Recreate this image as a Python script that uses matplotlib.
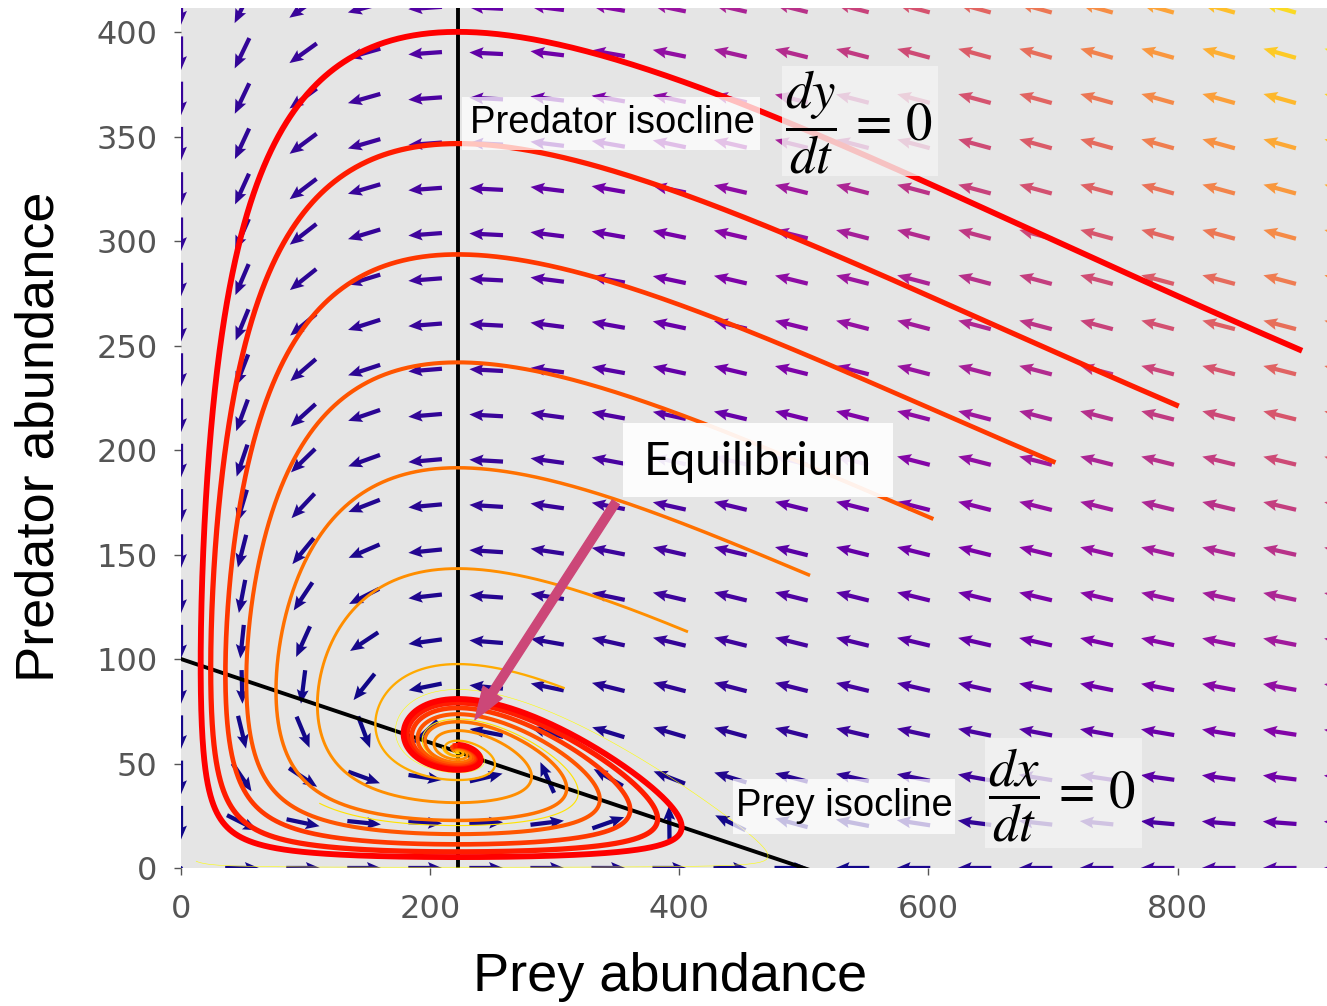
import numpy as np
import matplotlib
matplotlib.use("Agg")
import matplotlib.pyplot as plt
from matplotlib.patches import Rectangle

# ---------------- data / model parameters ----------------
r_prey = 1.0        # prey growth rate
K_prey = 500.0      # prey carrying capacity
a_attack = 0.01     # attack rate
b_conv = 0.0045     # conversion rate
m_death = 1.0       # predator mortality

# trajectory starting points (prey, predator), smallest to largest
start_prey = [12, 111, 210, 308, 407, 505, 604, 702, 801, 900]
start_pred = [3.3, 31, 58, 86, 113, 140, 167, 194, 221, 247.5]

x_ticks = [0, 200, 400, 600, 800]
y_ticks = [0, 50, 100, 150, 200, 250, 300, 350, 400]

x_lim = (0, 920)
y_lim = (0, 411.5)
grid_xmax = 931
grid_ymax = 411.5
n_grid = 20


def deriv(x, y):
    dx = x * (r_prey * (1 - x / K_prey) - a_attack * y)
    dy = y * (b_conv * x - m_death)
    return dx, dy


def integrate(x0, y0, T=21.0, n=8400):
    h = T / n
    X = np.array(x0, float)
    Y = np.array(y0, float)
    xs = [X.copy()]
    ys = [Y.copy()]
    for _ in range(n):
        k1x, k1y = deriv(X, Y)
        k2x, k2y = deriv(X + h / 2 * k1x, Y + h / 2 * k1y)
        k3x, k3y = deriv(X + h / 2 * k2x, Y + h / 2 * k2y)
        k4x, k4y = deriv(X + h * k3x, Y + h * k3y)
        X = X + h / 6 * (k1x + 2 * k2x + 2 * k3x + k4x)
        Y = Y + h / 6 * (k1y + 2 * k2y + 2 * k3y + k4y)
        xs.append(X.copy())
        ys.append(Y.copy())
    return np.array(xs), np.array(ys)


W, H = 1327, 1006
fig = plt.figure(figsize=(W / 100, H / 100), dpi=100)
ax = fig.add_axes([181 / W, 1 - 868 / H, 1146 / W, 860 / H])
ax.set_facecolor("#e5e5e5")
for s in ax.spines.values():
    s.set_visible(False)

# vector field
xg = np.linspace(0, grid_xmax, n_grid)
yg = np.linspace(0, grid_ymax, n_grid)
XG, YG = np.meshgrid(xg, yg)
DX, DY = deriv(XG, YG)
M = np.hypot(DX, DY)
Mn = M.copy()
Mn[Mn == 0] = 1
ax.quiver(XG, YG, DX / Mn, DY / Mn, M, cmap="plasma", pivot="mid",
          scale=34, scale_units="width", width=0.0037,
          headwidth=2.8, headlength=3.3, headaxislength=2.9, zorder=2)

# isoclines
xi = np.array([0, x_lim[1]])
ax.plot(xi, r_prey / a_attack * (1 - xi / K_prey), color="black", lw=2.8, zorder=3)
ax.axvline(m_death / b_conv, color="black", lw=2.8, zorder=3)

# trajectories
TX, TY = integrate(start_prey, start_pred)
n_tr = len(start_prey)
cols = plt.cm.autumn_r(np.linspace(0.0, 1.0, n_tr))
lws = np.linspace(0.4, 4.2, n_tr)
for i in range(n_tr):
    ax.plot(TX[:, i], TY[:, i], color=cols[i], lw=lws[i], zorder=4 + i * 0.01,
            solid_capstyle="butt")

ax.set_xlim(*x_lim)
ax.set_ylim(*y_lim)
ax.set_xticks(x_ticks)
ax.set_yticks(y_ticks)
ax.tick_params(colors="#555555", labelsize=23, length=5, width=1)
ax.tick_params(axis="y", pad=12)
ax.tick_params(axis="x", pad=14)

# equilibrium arrow
ax.annotate("", xy=(236, 71), xytext=(349, 175),
            arrowprops=dict(arrowstyle="simple,head_length=1.3,head_width=0.9,tail_width=0.34",
                            color="#cc4778", shrinkA=0, shrinkB=0, mutation_scale=18),
            zorder=6, annotation_clip=False)


def box(px0, py0, px1, py1, color, alpha):
    fig.add_artist(Rectangle((px0 / W, 1 - py1 / H), (px1 - px0) / W, (py1 - py0) / H,
                             transform=fig.transFigure, facecolor=color, alpha=alpha,
                             edgecolor="none", zorder=5))


def ftext(px, py, s, **kw):
    fig.text(px / W, 1 - py / H, s, ha="center", va="center", zorder=6, **kw)


plt.rcParams["mathtext.fontset"] = "stix"

box(462, 97, 760, 150, "white", 0.75)
ftext(612, 123, "Predator isocline", fontsize=27.5, family="Liberation Sans")
box(782, 66, 938, 176, "#f4f4f4", 0.8)
ftext(859, 122, r"$\dfrac{dy}{dt}\,=\,0$", fontsize=38)

box(623, 423, 893, 497, "white", 0.92)
ftext(758, 462, "Equilibrium", fontsize=33, family="Lato")

box(733, 779, 955, 834, "white", 0.75)
ftext(844, 806, "Prey isocline", fontsize=27.5, family="Liberation Sans")
box(985, 738, 1142, 848, "#f4f4f4", 0.8)
ftext(1062, 795, r"$\dfrac{dx}{dt}\,=\,0$", fontsize=38)

# axis labels
ftext(670, 977, "Prey abundance", fontsize=39, family="Liberation Sans")
fig.text(40 / W, 1 - 437 / H, "Predator abundance", rotation=90, ha="center", va="center",
         fontsize=39, family="Liberation Sans")

fig.savefig("out.png", dpi=100)
